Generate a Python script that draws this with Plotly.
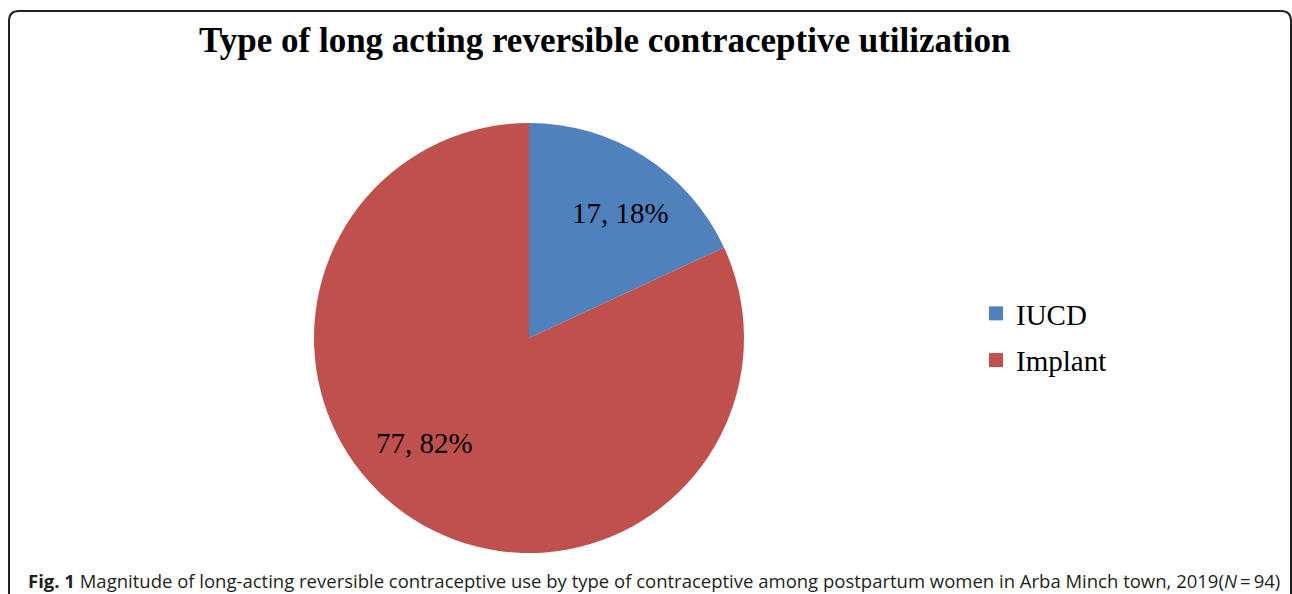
import plotly.graph_objects as go

labels = ["IUCD", "Implant"]
values = [17, 77]
colors = ["#4F81BD", "#C0504D"]
title_text = "Type of long acting reversible contraceptive utilization"
caption_text = ("<b>Fig. 1</b> Magnitude of long-acting reversible contraceptive use by type of "
                "contraceptive among postpartum women in Arba Minch town, 2019(<i>N</i>\u2009=\u200994)")

W, H = 1292, 594
total = sum(values)
label_texts = [f"{v}, {round(100 * v / total)}%" for v in values]
label_pos = [(620, 213), (424, 443)]  # pixel positions of the data labels

fig = go.Figure(go.Pie(
    labels=labels,
    values=values,
    marker=dict(colors=colors, line=dict(width=0)),
    sort=False,
    direction="clockwise",
    rotation=0,
    textinfo="none",
    showlegend=False,
    domain=dict(x=[314 / W, 744 / W], y=[1 - 553 / H, 1 - 123 / H]),
    hoverinfo="label+value+percent",
))

# legend entries (square swatches) matching slice colours
for lab, col in zip(labels, colors):
    fig.add_trace(go.Scatter(
        x=[None], y=[None], mode="markers", name=lab, legendgroup=lab,
        marker=dict(symbol="square", color=col, size=14),
        showlegend=True, hoverinfo="skip",
    ))

annotations = [
    dict(text="<b>" + title_text + "</b>", x=604 / W, y=1 - 40 / H,
         xref="paper", yref="paper", xanchor="center", yanchor="middle",
         showarrow=False, font=dict(family="Liberation Serif", size=35, color="black")),
    dict(text=caption_text, x=26 / W, y=1 - 580 / H,
         xref="paper", yref="paper", xanchor="left", yanchor="middle",
         showarrow=False, font=dict(family="Open Sans", size=18.5, color="#231F20")),
]
for t, (px, py) in zip(label_texts, label_pos):
    annotations.append(dict(text=t, x=px / W, y=1 - py / H, xref="paper", yref="paper",
                            xanchor="center", yanchor="middle", showarrow=False,
                            font=dict(family="Liberation Serif", size=29, color="black")))

fig.update_layout(
    width=W, height=H,
    margin=dict(l=0, r=0, t=0, b=0),
    paper_bgcolor="white",
    plot_bgcolor="rgba(0,0,0,0)",
    showlegend=True,
    xaxis=dict(visible=False, domain=[0.99, 1]),
    yaxis=dict(visible=False, domain=[0.99, 1]),
    legend=dict(
        x=976 / W, y=1 - 288 / H, xanchor="left", yanchor="top",
        font=dict(family="Liberation Serif", size=29, color="black"),
        itemsizing="trace", tracegroupgap=6, itemwidth=30,
    ),
    annotations=annotations,
    shapes=[
        dict(type="path", xref="paper", yref="paper",
             path=(f"M {9/W},{-0.05} L {9/W},{1-21/H} Q {9/W},{1-11/H} {19/W},{1-11/H} "
                   f"L {1281/W},{1-11/H} Q {1291/W},{1-11/H} {1291/W},{1-21/H} L {1291/W},{-0.05}"),
             line=dict(color="#222222", width=2)),
    ],
)

fig.write_html("out.html", config={"displayModeBar": False},
               post_script="document.body.style.margin='0';document.body.style.overflow='hidden';")
